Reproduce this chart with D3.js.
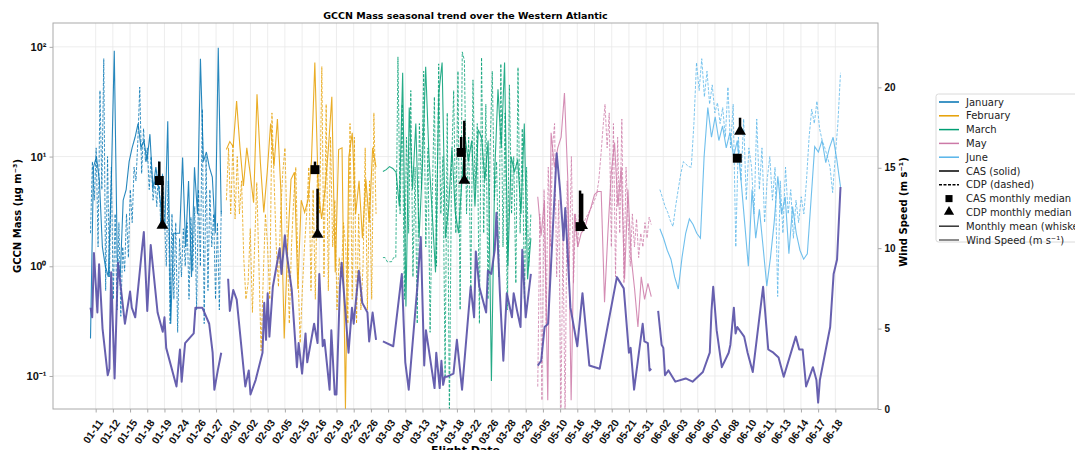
<!DOCTYPE html>
<html>
<head>
<meta charset="utf-8">
<script src="https://cdn.jsdelivr.net/npm/d3@7"></script>
<style>
  body { margin: 0; background: #fff; }
  svg { font-family: "DejaVu Sans", sans-serif; }
</style>
</head>
<body>
<svg id="chart" width="1075" height="450"></svg>
<script>
// ---- data -------------------------------------------------------------
// Flight-date labels, one every 10 samples along the record
const flightDates = ["01-11","01-12","01-15","01-18","01-19","01-24","01-26","01-27",
  "02-01","02-02","02-03","02-05","02-15","02-16","02-19","02-22","02-26",
  "03-03","03-04","03-13","03-14","03-18","03-22","03-26","03-28","03-29",
  "05-05","05-10","05-16","05-18","05-20","05-21","05-31",
  "06-02","06-03","06-05","06-07","06-08","06-10","06-11","06-13","06-14","06-17","06-18"];
const firstTickSample = 3;
const samplesPerTick = 10;

const months = ["January", "February", "March", "May", "June"];
const monthColors = ["#0072B2", "#E69F00", "#009E73", "#CC79A7", "#56B4E9"];
// first and last sample of each month's record
const monthSpans = [[0, 76], [79, 166], [170, 256], [260, 326], [331, 436]];

// CAS GCCN mass (µg m-3), evenly spaced samples per month
const casJan = [0.22, 8, 10, 6, 1.5, 1.0, 0.8, 6, 92, 1.2, 0.8, 4, 5, 9, 12, 15, 20, 12, 14, 9, 16, 5, 8, 5, 3,
  2.2, 21, 0.3, 2.0, 2.0, 2.0, 9.8, 1.5, 6, 0.8, 8, 3, 78, 9, 11, 8, 6.5, 2, 98, 3];
const casFeb = [11.6, 13.7, 12.3, 32, 12, 5.4, 12, 7, 3.8, 37, 8.8, 3.1, 7.2, 20, 8.2, 22, 5, 0.22, 1.5, 6.2,
  7.2, 0.62, 4, 3.1, 4, 9, 72, 5, 2.7, 5, 12, 35, 0.88, 11.6, 12, 0.05, 10, 16.5, 3, 6, 1.8, 6.2, 2.5, 12, 8];
const casMar = [7.3, 7.6, 8.1, 7.8, 7.2, 3.5, 58, 0.43, 28, 5, 20, 1.8, 8, 66, 10, 3, 0.88, 38, 72, 1.8, 3.5,
  12, 3.1, 2.0, 6, 15, 9, 14, 3.5, 17.6, 15, 6, 14, 0.09, 7.2, 41, 12, 72, 1.0, 10, 7.2, 9.4, 3, 20, 0.76, 1.8];
const casMay = [4.3, 1.9, 4, 0.06, 16.5, 8, 12, 15, 38, 6.2, 0.06, 3, 1.5, 2.0, 2.2, 2.8, 3.5, 4.5, 4.8, 4.8,
  0.47, 2, 7, 13.4, 3.5, 8, 0.76, 5, 1.2, 0.62, 0.28, 0.8, 0.5, 0.7, 0.53];
const casJun = [2.2, 1.8, 1.4, 1.16, 0.8, 0.62, 1.2, 2.0, 2.7, 2.4, 2.0, 1.8, 10, 28, 15, 23, 14, 19, 12, 16.5,
  10, 14, 6.2, 2.5, 1.0, 5, 1.8, 3.3, 1.5, 0.66, 1.2, 2.5, 6.6, 3, 4.3, 1.3, 3.5, 2.0, 1.4, 1.16, 1.3, 4, 12.3,
  11, 14, 8.8, 12, 15, 9.4, 5.3];

// CDP GCCN mass (µg m-3), evenly spaced samples per month
const cdpJan = [2.0, 9, 4, 12, 1.5, 40, 5, 78, 0.6, 10, 0.8, 8, 0.5, 3, 0.4, 2.5, 0.35, 1.5, 0.9, 3, 1.2, 5,
  2.5, 8, 6, 14, 43, 7, 18, 9, 12, 5, 10, 4, 6, 3.5, 9, 2.5, 7, 3, 1.0, 6, 0.3, 3, 0.5, 2.5, 0.25, 1.8, 0.8,
  2.2, 1.0, 2.5, 0.5, 2.8, 0.9, 3.5, 0.4, 5, 1.0, 27, 0.3, 10, 0.6, 5, 1.5, 3, 0.5, 2.5, 0.4, 3.2];
const cdpFeb = [4, 12, 3, 13, 2.7, 10, 3, 6, 1.2, 0.5, 0.7, 2.2, 0.38, 1.5, 5.8, 1.0, 0.17, 0.8, 3, 1.5, 0.5,
  25, 6, 1.5, 0.65, 3, 7.2, 12, 2, 0.3, 1.5, 4, 8, 0.9, 0.2, 0.6, 1.5, 3, 8, 0.6, 5, 0.5, 8, 3, 66, 0.8, 30,
  0.6, 15, 1.5, 4, 0.4, 1.2, 0.8, 2.5, 1.5, 0.3, 20, 0.5, 15, 0.3, 3, 0.4, 1.0, 12, 0.4, 6, 0.5, 25, 3];
const cdpMar = [1.2, 1.2, 1.1, 1.1, 1.1, 1.2, 1.2, 81, 3, 30, 0.5, 15, 2, 40, 0.8, 8, 0.3, 20, 5, 60, 1.5, 12,
  0.25, 4, 35, 1, 70, 3, 10, 0.1, 25, 0.04, 8, 40, 2, 60, 0.4, 90, 75, 3, 15, 0.6, 50, 5, 20, 0.3, 80, 2, 30,
  0.5, 12, 60, 4, 9, 0.8, 70, 1.5, 25, 0.4, 45, 3, 10, 0.7, 65, 2, 18, 0.5, 8, 1.0, 3];
const cdpMay = [0.08, 3, 0.06, 5, 0.3, 8, 1.5, 12, 20, 0.8, 4, 0.04, 2, 0.04, 6, 1.0, 10, 0.7, 3, 1.5, 4, 2.2,
  2.5, 2.8, 3.0, 3.3, 3.6, 4.0, 4.5, 6, 10, 18, 30, 12, 25, 1.5, 20, 0.8, 15, 2, 22, 0.7, 8, 2.5, 1.0, 3, 1.5,
  2.7, 1.2, 2, 1.5, 2.5, 1.8, 2.8, 2.4];
const cdpJun = [5, 4.2, 3.5, 3.1, 2.6, 2.3, 3.5, 5, 7, 9, 8.5, 8.1, 8, 20, 72, 40, 78, 35, 60, 30, 45, 25, 31,
  20, 28, 15, 43, 12, 30, 1.5, 15, 6, 22, 4, 12, 8.1, 3, 22, 5, 12, 2.5, 6.2, 10, 4, 8, 0.53, 6, 2, 8, 3, 5,
  1.8, 4, 2.5, 4.3, 3, 6, 15, 27, 20, 32, 18, 14, 12, 10, 8, 4.7, 10, 20, 58];

// Wind speed (m s-1) as [sample, value]
const windJan = [[0,6.3],[1,5.7],[2,9.7],[4,6.0],[5,9.0],[7,5.0],[10,2.1],[11,2.5],[12,8.5],[14,1.9],[16,9.1],
  [20,5.3],[23,7.3],[24,6.3],[26,5.7],[30,10],[31,11],[33,6.1],[35,10.2],[39,6.0],[42,4.8],[43,5.7],[44,3.8],
  [50,1.4],[52,3.7],[53,1.7],[55,4.1],[60,4.7],[61,6.3],[65,6.3],[69,5.3],[71,3.5],[72,1.2],[74,2.4],[76,3.5]];
const windFeb = [[80,8.1],[81,6.1],[83,7.4],[85,6.8],[90,1.4],[92,2.4],[93,0.9],[96,1.8],[100,3.5],[101,6.6],
  [102,4.3],[103,7.2],[104,4.5],[106,7.6],[110,10.0],[111,8.4],[113,10.8],[114,9.7],[117,7.4],[120,2.6],
  [121,4.1],[123,2.2],[125,4.7],[126,2.9],[130,5.3],[132,4.1],[133,8.4],[135,3.9],[136,4.3],[139,1.2],
  [140,4.9],[142,0.9],[143,0.9],[145,7.6],[146,9.1],[148,6.3],[150,3.5],[152,6.3],[153,5.3],[156,8.6],
  [158,6.6],[161,6.0],[162,4.2],[164,6.0],[166,4.3]];
const windMar = [[170,4.2],[176,3.9],[181,8.4],[182,5.5],[183,2.9],[185,1.2],[190,7.6],[192,10.7],[194,2.7],
  [195,4.9],[200,1.3],[201,3.5],[203,1.3],[204,3.0],[205,1.5],[206,2.0],[207,2.0],[211,2.2],[213,4.3],
  [216,1.2],[221,7.6],[223,5.7],[224,9.8],[226,7.6],[230,6.0],[231,8.6],[233,8.4],[235,9.9],[236,12.2],
  [238,7.2],[240,3.0],[242,7.2],[245,5.7],[246,7.2],[248,6.1],[250,5.1],[251,9.9],[253,5.7],[254,6.6],[256,8.4]];
const windMay = [[260,2.7],[262,3.0],[264,5.1],[266,5.3],[271,15.9],[273,13.6],[275,10.5],[276,12.5],
  [279,6.3],[283,3.9],[286,7.2],[290,2.7],[296,2.5],[306,8.2],[310,7.5],[313,3.5],[314,3.8],[316,1.2],
  [321,5.3],[322,4.2],[324,4.1],[325,2.4],[326,2.5]];
const windJun = [[330,6.1],[332,4.0],[333,3.8],[334,2.1],[336,2.4],[340,1.7],[346,1.9],[350,1.7],[356,2.3],
  [360,3.5],[361,6.1],[362,7.6],[364,4.9],[367,2.6],[371,3.5],[372,4.0],[374,6.3],[375,4.7],[376,5.1],
  [380,4.5],[382,3.5],[385,2.3],[391,7.6],[394,3.7],[397,3.5],[400,3.2],[403,2.0],[410,4.5],[412,3.7],
  [414,3.7],[416,1.4],[420,2.6],[422,1.8],[423,0.4],[424,1.8],[430,5.1],[432,8.4],[434,9.3],[436,13.8]];

// Monthly medians and means (µg m-3) with the sample they are plotted at
const casMedianSample = [40, 130.5, 215.5, 284.6, 376];
const casMedian = [6.05, 7.6, 10.9, 2.3, 9.66];
const casMean = [9.0, 9.0, 15.1, 4.9, 9.9];
const cdpMedianSample = [41.8, 132, 217.3, 285.8, 377.6];
const cdpMedian = [2.31, 1.91, 5.93, 2.3, 16.6];
const cdpMean = [6.0, 5.1, 21.2, 4.6, 22.6];

// ---- layout -----------------------------------------------------------
const svg = d3.select("#chart");
const plot = { left: 53, right: 878, top: 23, bottom: 409 };

const allSamples = monthSpans.flat();
const sMin = d3.min(allSamples), sMax = d3.max(allSamples);
const pad = (sMax - sMin) * 0.05;
const x = d3.scaleLinear().domain([sMin - pad, sMax + pad]).range([plot.left, plot.right]);
const yL = d3.scaleLog().domain([0.05, 165]).range([plot.bottom, plot.top]);
const yR = d3.scaleLinear().domain([0, 24]).range([plot.bottom, plot.top]);

const tickSamples = flightDates.map((d, i) => firstTickSample + i * samplesPerTick);

svg.append("defs").append("clipPath").attr("id", "plotClip")
  .append("rect").attr("x", plot.left).attr("y", plot.top)
  .attr("width", plot.right - plot.left).attr("height", plot.bottom - plot.top);

// grid
const grid = svg.append("g").attr("stroke", "#e8e8e8").attr("stroke-width", 0.8);
tickSamples.forEach(s => grid.append("line")
  .attr("x1", x(s)).attr("x2", x(s)).attr("y1", plot.top).attr("y2", plot.bottom));
[0.1, 1, 10, 100].forEach(v => grid.append("line")
  .attr("x1", plot.left).attr("x2", plot.right).attr("y1", yL(v)).attr("y2", yL(v)));

// ---- series -----------------------------------------------------------
const casSeries = [casJan, casFeb, casMar, casMay, casJun];
const cdpSeries = [cdpJan, cdpFeb, cdpMar, cdpMay, cdpJun];
const windSeries = [windJan, windFeb, windMar, windMay, windJun];

const spread = (vals, span) => vals.map((v, i) => [span[0] + i * (span[1] - span[0]) / (vals.length - 1), v]);
const lineL = d3.line().x(d => x(d[0])).y(d => yL(Math.max(d[1], 0.03)));
const lineR = d3.line().x(d => x(d[0])).y(d => yR(d[1]));

const dataG = svg.append("g").attr("clip-path", "url(#plotClip)");

months.forEach((m, i) => {
  dataG.append("path").datum(spread(cdpSeries[i], monthSpans[i]))
    .attr("d", lineL).attr("fill", "none").attr("stroke", monthColors[i])
    .attr("stroke-width", 0.9).attr("stroke-dasharray", "3,1.5").attr("opacity", 0.85);
  dataG.append("path").datum(spread(casSeries[i], monthSpans[i]))
    .attr("d", lineL).attr("fill", "none").attr("stroke", monthColors[i])
    .attr("stroke-width", 1.1).attr("opacity", 0.85);
});

// monthly medians with whiskers to the monthly mean
const sq = d3.symbol().type(d3.symbolSquare).size(80);
const tri = d3.symbol().type(d3.symbolTriangle).size(60);
months.forEach((m, i) => {
  dataG.append("line")
    .attr("x1", x(casMedianSample[i])).attr("x2", x(casMedianSample[i]))
    .attr("y1", yL(casMedian[i])).attr("y2", yL(casMean[i]))
    .attr("stroke", "#000").attr("stroke-width", 2.5);
  dataG.append("line")
    .attr("x1", x(cdpMedianSample[i])).attr("x2", x(cdpMedianSample[i]))
    .attr("y1", yL(cdpMedian[i])).attr("y2", yL(cdpMean[i]))
    .attr("stroke", "#000").attr("stroke-width", 2.5);
  dataG.append("path").attr("d", sq)
    .attr("transform", `translate(${x(casMedianSample[i])},${yL(casMedian[i])})`).attr("fill", "#000");
  dataG.append("path").attr("d", tri)
    .attr("transform", `translate(${x(cdpMedianSample[i])},${yL(cdpMedian[i]) - 1})`).attr("fill", "#000");
});

// wind speed on the right axis
windSeries.forEach(w => {
  dataG.append("path").datum(w).attr("d", lineR).attr("fill", "none")
    .attr("stroke", "#5a52a8").attr("stroke-width", 2).attr("opacity", 0.92)
    .attr("stroke-linejoin", "round");
});

// ---- axes -------------------------------------------------------------
const spine = "#aaaaaa";
svg.append("rect").attr("x", plot.left).attr("y", plot.top)
  .attr("width", plot.right - plot.left).attr("height", plot.bottom - plot.top)
  .attr("fill", "none").attr("stroke", spine).attr("stroke-width", 1);

const sup = { "-1": "⁻¹", "0": "⁰", "1": "¹", "2": "²" };
const axL = svg.append("g").attr("transform", `translate(${plot.left},0)`)
  .call(d3.axisLeft(yL).tickValues([0.1, 1, 10, 100]).tickSize(3.5).tickPadding(3)
    .tickFormat(v => "10" + sup[String(Math.round(Math.log10(v)))]));
const axR = svg.append("g").attr("transform", `translate(${plot.right},0)`)
  .call(d3.axisRight(yR).tickValues([0, 5, 10, 15, 20]).tickSize(3.5).tickPadding(3));
const axB = svg.append("g").attr("transform", `translate(0,${plot.bottom})`)
  .call(d3.axisBottom(x).tickValues(tickSamples).tickSize(3.5)
    .tickFormat((d, i) => flightDates[i]));

[axL, axR, axB].forEach(a => {
  a.select(".domain").remove();
  a.selectAll(".tick line").attr("stroke", spine);
  a.selectAll("text").attr("font-size", 10).attr("font-weight", "bold").attr("fill", "#111");
});
axL.selectAll("text").attr("font-size", 11);
axB.selectAll(".tick text")
  .attr("font-size", 10.5)
  .attr("text-anchor", "end").attr("dy", 0).attr("dx", 0)
  .attr("transform", "translate(2,10) rotate(-55)");

// titles
svg.append("text").attr("x", (plot.left + plot.right) / 2).attr("y", 19)
  .attr("text-anchor", "middle").attr("font-size", 9.5).attr("font-weight", "bold")
  .text("GCCN Mass seasonal trend over the Western Atlantic");
svg.append("text").attr("transform", `translate(21,${(plot.top + plot.bottom) / 2}) rotate(-90)`)
  .attr("text-anchor", "middle").attr("font-size", 10).attr("font-weight", "bold")
  .text("GCCN Mass (µg m⁻³)");
svg.append("text").attr("transform", `translate(907,${(plot.top + plot.bottom) / 2 - 4}) rotate(-90)`)
  .attr("text-anchor", "middle").attr("font-size", 10).attr("font-weight", "bold")
  .text("Wind Speed (m s⁻¹)");
svg.append("text").attr("x", (plot.left + plot.right) / 2).attr("y", 454)
  .attr("text-anchor", "middle").attr("font-size", 11).attr("font-weight", "bold")
  .text("Flight Date");

// ---- legend -----------------------------------------------------------
const legendItems = months.map((m, i) => ({ label: m, kind: "line", color: monthColors[i] }))
  .concat([
    { label: "CAS (solid)", kind: "line", color: "#000" },
    { label: "CDP (dashed)", kind: "dash", color: "#000" },
    { label: "CAS monthly median", kind: "square", color: "#000" },
    { label: "CDP monthly median", kind: "triangle", color: "#000" },
    { label: "Monthly mean (whiskers)", kind: "line", color: "#333" },
    { label: "Wind Speed (m s⁻¹)", kind: "line", color: "#666" }
  ]);
const lg = svg.append("g").attr("transform", "translate(936,94)");
lg.append("rect").attr("width", 170).attr("height", 148).attr("rx", 2.5)
  .attr("fill", "#fff").attr("stroke", "#d0d0d0").attr("stroke-width", 0.8);
legendItems.forEach((it, i) => {
  const g = lg.append("g").attr("transform", `translate(0,${8 + i * 13.8})`);
  if (it.kind === "line" || it.kind === "dash") {
    g.append("line").attr("x1", 3).attr("x2", 23).attr("y1", 0).attr("y2", 0)
      .attr("stroke", it.color).attr("stroke-width", 1.5)
      .attr("stroke-dasharray", it.kind === "dash" ? "3,1.5" : null);
  } else if (it.kind === "square") {
    g.append("path").attr("d", d3.symbol().type(d3.symbolSquare).size(50)).attr("transform", "translate(13,0)");
  } else {
    g.append("path").attr("d", d3.symbol().type(d3.symbolTriangle).size(45)).attr("transform", "translate(13,-0.5)");
  }
  g.append("text").attr("x", 30).attr("y", 0).attr("dy", "0.35em")
    .attr("font-size", 10).attr("fill", "#222").text(it.label);
});
</script>
</body>
</html>
